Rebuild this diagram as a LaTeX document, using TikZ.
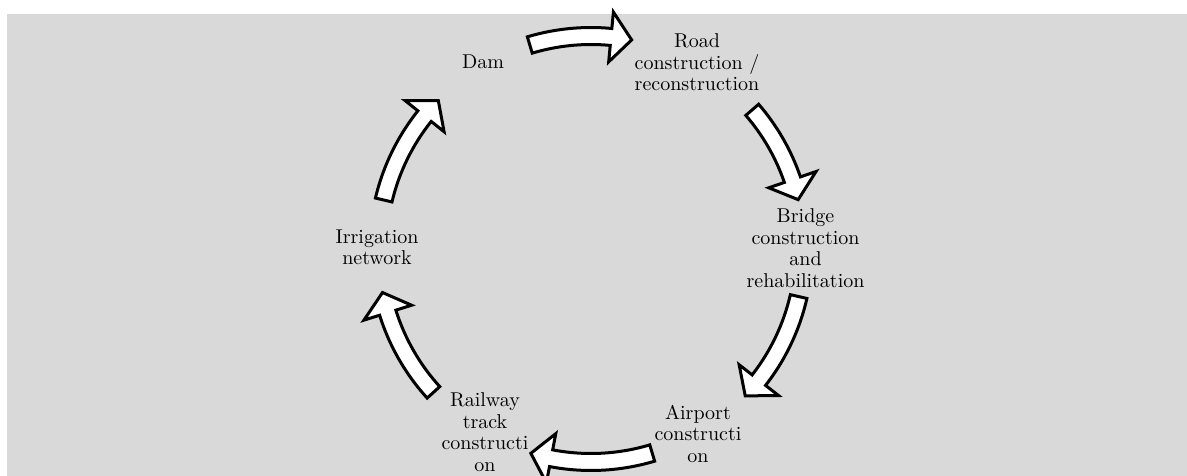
\documentclass[tikz,border=0pt]{standalone}
\usepackage{fontspec}
\setmainfont{lmroman10-regular}[Extension=.otf]
\definecolor{bggray}{RGB}{217,217,217}
\tikzset{
  lbl/.style={align=center, font=\fontsize{20}{21.5}\selectfont, inner sep=0pt, text=black},
  cyc/.style={draw=black, fill=white, line width=3pt, line join=miter}
}
\newcommand\cycarr[2]{%
  \draw[cyc] (#1:221.5) arc[start angle=#1, end angle=#2+5.6, radius=221.5]
    -- (#2+5.6:238) -- (#2:213) -- (#2+5.6:188) -- (#2+5.6:204.5)
    arc[start angle=#2+5.6, end angle=#1, radius=204.5] -- cycle;}
\begin{document}
\begin{tikzpicture}[x=1pt,y=1pt]
\useasboundingbox (0,0) rectangle (1187,-476);
\fill[bggray] (7,-14) rectangle (1187,-476);
\coordinate (c) at (591,-249);
\node[lbl] (dam) at (483,-62) {Dam};
\node[lbl] (road) at (697,-62.5) {Road\\construction /\\reconstruction};
\node[lbl] (bridge) at (805.5,-248) {Bridge\\construction\\and\\rehabilitation};
\node[lbl] (airport) at (698,-433.5) {Airport\\constructi\\on};
\node[lbl] (railway) at (485,-432) {Railway\\track\\constructi\\on};
\node[lbl] (irrigation) at (377,-247.5) {Irrigation\\network};
\begin{scope}[shift={(c)}]
\cycarr{106.7}{79}
\cycarr{40.8}{13.4}
\cycarr{-12.9}{-43.6}
\cycarr{-73.3}{-106.4}
\cycarr{222.3}{191.8}
\cycarr{166.7}{135.8}
\end{scope}
\end{tikzpicture}
\end{document}
